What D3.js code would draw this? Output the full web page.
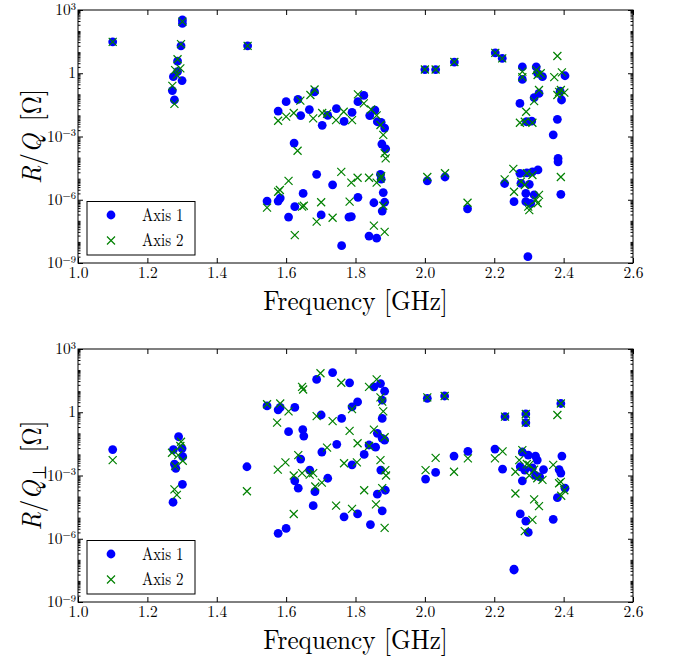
<!DOCTYPE html>
<html><head><meta charset="utf-8">
<script src="https://cdn.jsdelivr.net/npm/d3@7"></script>
<style>body{margin:0;background:#fff;}</style>
</head><body>
<svg id="chart" width="678" height="656"></svg>
<script>
// ---------- tick labels ----------
const xTicks = [1.0, 1.2, 1.4, 1.6, 1.8, 2.0, 2.2, 2.4, 2.6];
const yMajorTicks = [1e-9, 1e-6, 1e-3, 1, 1e3];
const seriesNames = ["Axis 1", "Axis 2"];

// ---------- top panel: R/Q ----------
const topFreq1 = [1.100,1.301,1.301,1.297,1.287,1.275,1.300,1.287,1.272,1.278,1.489,
 1.577,1.600,1.634,1.642,1.667,1.682,1.704,1.720,1.745,1.767,1.790,1.807,1.824,1.841,1.856,1.863,1.874,1.884,1.876,1.887,1.623,
 1.545,1.577,1.583,1.607,1.625,1.649,1.688,1.701,1.734,1.760,1.781,1.788,1.807,1.839,1.861,1.853,1.872,1.874,1.880,1.884,1.877,2.007,
 2.000,2.031,2.085,2.203,2.223,2.281,2.281,2.321,2.325,2.339,2.404,2.329,2.315,2.390,2.394,2.274,2.293,2.308,2.382,2.370,2.384,2.384,2.392,
 2.058,2.123,2.230,2.274,2.277,2.301,2.294,2.310,2.326,2.291,2.315,2.257,2.291,2.305,2.297];
const topRQ1 = [3.1e1,3.4e2,2.3e2,2.0e1,3.8e0,6.9e-1,4.5e-1,1.2e0,1.5e-1,5.4e-2,2.0e1,
 1.6e-2,4.5e-2,5.8e-2,9.8e-3,1.9e-2,1.3e-1,3.4e-3,1.0e-2,2.1e-2,5.2e-3,1.4e-2,4.5e-2,8.9e-2,9.8e-3,1.8e-2,5.0e-3,4.7e-3,2.5e-3,4.4e-4,2.6e-4,4.9e-4,
 8.7e-7,8.7e-7,1.2e-6,1.5e-7,4.7e-7,2.0e-6,1.6e-5,1.9e-7,5.1e-6,6.6e-9,1.5e-7,1.6e-7,1.3e-6,1.9e-8,1.5e-8,7.2e-7,1.6e-5,9.5e-6,2.2e-6,7.6e-7,2.9e-7,7.9e-6,
 1.5e0,1.5e0,3.4e0,9.3e0,5.1e0,2.0e0,5.1e-1,2.0e0,1.0e0,6.9e-1,7.6e-1,1.1e-1,6.9e-2,1.4e-1,5.4e-2,3.7e-2,5.0e-3,5.4e-3,6.5e-3,1.2e-3,9.1e-5,6.3e-5,1.8e-6,
 1.2e-5,3.7e-7,5.9e-6,1.8e-5,6.0e-6,5.4e-6,1.9e-5,2.1e-5,2.6e-5,2.0e-6,1.7e-6,8.1e-7,8.1e-7,6.8e-7,2.0e-9];
const topFreq2 = [1.100,1.301,1.297,1.287,1.280,1.295,1.285,1.272,1.278,1.489,
 1.577,1.600,1.622,1.641,1.670,1.682,1.678,1.704,1.718,1.744,1.766,1.790,1.807,1.824,1.845,1.861,1.872,1.880,1.884,1.887,1.633,
 1.545,1.577,1.582,1.607,1.625,1.646,1.651,1.688,1.701,1.734,1.759,1.788,1.806,1.783,1.839,1.861,1.872,1.874,1.880,1.853,1.884,2.007,
 2.000,2.031,2.085,2.203,2.223,2.281,2.281,2.321,2.325,2.334,2.382,2.395,2.373,2.329,2.315,2.387,2.402,2.382,2.392,2.292,2.274,2.310,2.288,2.392,
 2.058,2.123,2.230,2.255,2.277,2.288,2.294,2.310,2.257,2.298,2.301,2.325,2.329,2.320];
const topRQ2 = [3.1e1,2.8e2,2.4e1,4.6e0,1.4e0,1.7e0,8.3e-1,2.5e-1,3.5e-2,2.0e1,
 5.6e-3,8.7e-3,1.3e-2,5.0e-2,9.3e-2,1.7e-1,7.2e-3,1.3e-2,1.2e-2,6.0e-3,1.5e-2,6.0e-3,1.0e-1,3.7e-2,1.9e-2,1.0e-2,3.5e-3,1.2e-3,1.6e-4,9.1e-5,2.1e-4,
 4.2e-7,2.4e-6,2.9e-6,7.9e-6,2.1e-8,4.7e-7,5.2e-7,9.1e-8,7.6e-7,1.4e-7,2.1e-5,6.5e-6,1.1e-5,8.1e-7,1.1e-5,6.5e-6,1.0e-5,1.3e-5,5.2e-7,5.9e-8,3.0e-8,1.2e-5,
 1.5e0,1.5e0,3.4e0,9.3e0,5.1e0,1.2e0,6.5e-1,1.4e0,8.3e-1,1.0e0,6.6e0,1.1e0,6.5e-1,1.6e-1,4.8e-2,1.3e-1,1.2e-1,9.3e-2,1.6e-1,1.5e-2,4.5e-3,4.5e-3,5.0e-3,1.2e-5,
 1.8e-5,7.2e-7,9.3e-6,2.9e-5,7.2e-6,5.0e-6,1.8e-5,1.5e-5,2.4e-6,4.7e-7,3.2e-7,6.8e-7,1.7e-6,9.8e-7];

// ---------- bottom panel: R/Q_perp ----------
const botFreq1 = [1.100,1.290,1.275,1.300,1.302,1.278,1.282,1.301,1.274,1.487,
 1.545,1.577,1.583,1.625,1.607,1.648,1.651,1.688,1.734,1.783,1.701,1.703,1.746,1.760,1.790,1.806,1.642,1.668,1.720,1.625,
 1.635,1.683,1.678,1.790,1.825,1.839,1.858,1.863,1.884,1.877,1.877,1.873,1.886,1.863,1.877,1.767,1.806,1.843,1.577,1.600,
 1.853,1.872,1.884,1.877,2.007,2.031,2.002,
 2.057,2.231,2.291,2.291,2.392,2.084,2.124,2.202,2.224,2.281,2.298,2.319,2.324,2.275,2.288,2.310,2.342,2.281,2.319,
 2.331,2.275,2.291,2.298,2.257,2.257,2.370,2.382,2.404,2.387,2.392,2.395];
const botRQ1 = [1.7e-2,6.9e-2,1.7e-2,1.9e-2,7.8e-3,3.5e-3,2.2e-3,3.8e-4,5.4e-5,2.6e-3,
 2.0e0,1.3e0,1.7e0,1.7e0,1.2e-1,1.5e-1,7.4e-2,3.6e1,7.6e1,2.5e1,7.4e-1,1.3e-2,3.0e-2,5.1e-1,1.8e0,3.1e0,6.0e-3,1.8e-3,7.4e-4,5.6e-4,
 2.5e-4,1.7e-4,3.7e-5,3.2e-3,1.0e-2,2.8e-2,2.2e-2,1.0e-1,4.8e-2,5.8e-2,5.1e-1,1.8e-3,2.0e-4,1.3e-4,2.1e-5,1.1e-5,1.5e-5,4.7e-6,1.8e-6,3.1e-6,
 1.6e1,2.3e1,1.0e1,3.8e0,4.6e0,1.4e-3,6.8e-4,
 5.9e0,6.2e-1,8.3e-1,3.2e-1,2.6e0,8.3e-3,1.4e-2,1.8e-2,2.0e-3,1.3e-2,9.3e-3,8.3e-3,5.4e-3,2.6e-3,1.8e-3,2.3e-3,1.9e-3,5.6e-4,1.0e-3,
 8.7e-4,1.5e-5,6.9e-6,2.0e-6,3.6e-8,3.3e-8,8.3e-6,8.9e-5,2.5e-4,1.9e-3,1.3e-3,8.3e-3];
const botFreq2 = [1.100,1.271,1.297,1.295,1.289,1.302,1.280,1.278,1.285,1.487,
 1.545,1.583,1.607,1.574,1.646,1.649,1.699,1.759,1.688,1.734,1.783,1.790,1.839,1.861,1.872,1.877,1.880,1.853,1.884,1.806,
 1.839,1.718,1.635,1.598,1.576,1.622,1.646,1.668,1.678,1.703,1.684,1.767,1.804,1.872,1.886,1.888,1.825,1.877,1.744,1.790,
 1.859,1.622,1.884,2.007,2.002,2.031,
 2.057,2.231,2.291,2.291,2.382,2.084,2.124,2.202,2.224,2.281,2.272,2.301,2.294,2.261,2.315,2.301,2.339,2.324,2.261,2.315,2.329,
 2.310,2.288,2.393,2.402,2.387,2.392,2.370,2.392];
const botRQ2 = [5.4e-3,1.2e-2,4.0e-2,2.5e-2,9.3e-3,5.0e-3,2.8e-3,2.2e-4,1.2e-4,1.8e-4,
 2.4e0,2.6e0,1.1e0,3.2e-1,1.6e1,1.2e1,7.1e1,2.5e1,6.6e-1,3.8e-1,1.3e-1,1.4e0,1.6e1,3.6e1,5.1e0,3.2e0,1.1e0,1.5e-1,6.5e-2,3.4e-2,
 2.5e-2,2.1e-2,9.3e-3,4.2e-3,1.9e-3,1.0e-3,1.3e-3,1.1e-3,1.3e-3,4.6e-4,3.0e-4,3.8e-3,4.2e-3,5.4e-3,1.8e-3,1.0e-3,2.0e-4,2.5e-4,3.7e-5,2.6e-5,
 4.3e-5,1.5e-5,3.3e-6,5.1e0,1.8e-3,6.9e-3,
 5.9e0,6.2e-1,8.3e-1,3.2e-1,7.4e-1,1.5e-3,6.5e-3,6.5e-3,1.4e-2,1.6e-2,5.4e-3,3.2e-3,3.5e-3,1.5e-3,1.9e-3,1.0e-3,6.2e-4,7.4e-4,1.4e-4,7.4e-5,3.5e-5,
 7.8e-6,2.3e-6,1.1e-4,2.0e-4,4.3e-4,5.0e-4,3.2e-3,2.6e0];

// ---------- drawing ----------
const svg = d3.select("#chart");
const BLUE = "#0000ff", GREEN = "#008000";
const FONT = '"Latin Modern Roman", "CMU Serif", "Liberation Serif", serif';
const xPath = "M-4,-4L4,4M-4,4L4,-4";

// text placed at (x,y) with optional horizontal squeeze sx and rotation
function label(parent, x, y, size, anchor, sx = 1, rot = 0) {
  return parent.append("g")
    .attr("transform", `translate(${x},${y})` + (rot ? ` rotate(${rot})` : "") + ` scale(${sx},1)`)
    .append("text").attr("text-anchor", anchor).attr("font-size", size)
    .style("font-family", FONT).style("fill", "#000");
}

function expLabel(sel, v) {
  const e = Math.round(Math.log10(v));
  if (e === 0) { sel.text("1"); return; }
  sel.append("tspan").text("10");
  sel.append("tspan").attr("dy", -5.5).attr("font-size", 10.5)
     .text(e < 0 ? "\u2212" + (-e) : String(e));
}

function panel(top, f1, r1, f2, r2, perp) {
  const L = 78, R = 633, T = top, B = top + 253;
  const x = d3.scaleLinear().domain([1.0, 2.6]).range([L, R]);
  const y = d3.scaleLog().domain([1e-9, 1e3]).range([B, T]);
  const g = svg.append("g");

  // series 1: blue circles
  g.append("g").selectAll("circle").data(d3.zip(f1, r1)).join("circle")
    .attr("cx", d => x(d[0])).attr("cy", d => y(d[1])).attr("r", 4.4)
    .attr("fill", BLUE);
  // series 2: green crosses
  g.append("g").selectAll("path").data(d3.zip(f2, r2)).join("path")
    .attr("d", xPath)
    .attr("transform", d => `translate(${x(d[0])},${y(d[1])})`)
    .attr("fill", "none").attr("stroke", GREEN).attr("stroke-width", 1.2);

  // minor y ticks
  const minors = [];
  for (let e = -9; e < 3; e++) for (let k = 1; k <= 9; k++) {
    const v = k * Math.pow(10, e);
    if (!yMajorTicks.some(m => Math.abs(Math.log10(m) - Math.log10(v)) < 1e-9)) minors.push(v);
  }
  const clean = s => { s.select(".domain").remove(); s.selectAll("text").remove(); s.selectAll("line").attr("stroke", "#000"); };
  g.append("g").attr("transform", `translate(${L},0)`)
    .call(d3.axisLeft(y).tickValues(minors).tickSize(-2.5)).call(clean);
  g.append("g").attr("transform", `translate(${R},0)`)
    .call(d3.axisRight(y).tickValues(minors).tickSize(-2.5)).call(clean);
  // major y ticks
  g.append("g").attr("transform", `translate(${L},0)`)
    .call(d3.axisLeft(y).tickValues(yMajorTicks).tickSize(-5)).call(clean);
  g.append("g").attr("transform", `translate(${R},0)`)
    .call(d3.axisRight(y).tickValues(yMajorTicks).tickSize(-5)).call(clean);
  // y tick labels
  yMajorTicks.forEach(v => expLabel(label(g, L - 2, y(v) + 5, 15.5, "end"), v));
  // x ticks
  const xb = g.append("g").attr("transform", `translate(0,${B})`)
    .call(d3.axisBottom(x).tickValues(xTicks).tickSize(-5).tickPadding(3.5).tickFormat(d3.format(".1f")));
  xb.select(".domain").remove();
  xb.selectAll("line").attr("stroke", "#000");
  xb.selectAll("text").attr("font-size", 15.5).style("font-family", FONT).style("fill", "#000");
  g.append("g").attr("transform", `translate(0,${T})`)
    .call(d3.axisTop(x).tickValues(xTicks).tickSize(-5)).call(clean);

  // frame
  g.append("rect").attr("x", L).attr("y", T).attr("width", R - L).attr("height", B - T)
    .attr("fill", "none").attr("stroke", "#000").attr("stroke-width", 1);

  // axis labels
  label(g, (L + R) / 2, B + 47, 28, "middle", 0.9).text("Frequency [GHz]");
  const yl = label(g, 41, (T + B) / 2, 28, "middle", 0.9, -90);
  yl.append("tspan").style("font-style", "italic").text("R");
  yl.append("tspan").text("/");
  yl.append("tspan").style("font-style", "italic").text("Q");
  if (perp) {
    yl.append("tspan").attr("font-size", 19).attr("dy", 5).text("\u22A5");
    yl.append("tspan").attr("dy", -5).text("\u00A0[\u03A9]");
  } else {
    yl.append("tspan").text("\u00A0[\u03A9]");
  }

  // legend
  const lg = g.append("g").attr("transform", `translate(87,${B - 61.5})`);
  lg.append("rect").attr("width", 108).attr("height", 53.5)
    .attr("fill", "#fff").attr("stroke", "#000").attr("stroke-width", 1);
  lg.append("circle").attr("cx", 24).attr("cy", 13.5).attr("r", 4.4).attr("fill", BLUE);
  lg.append("path").attr("d", xPath).attr("transform", "translate(24,39)")
    .attr("fill", "none").attr("stroke", GREEN).attr("stroke-width", 1.2);
  label(lg, 55, 19.2, 18, "start", 0.83).text(seriesNames[0]);
  label(lg, 55, 44, 18, "start", 0.83).text(seriesNames[1]);
}

panel(10, topFreq1, topRQ1, topFreq2, topRQ2, false);
panel(349, botFreq1, botRQ1, botFreq2, botRQ2, true);
</script>
</body></html>
